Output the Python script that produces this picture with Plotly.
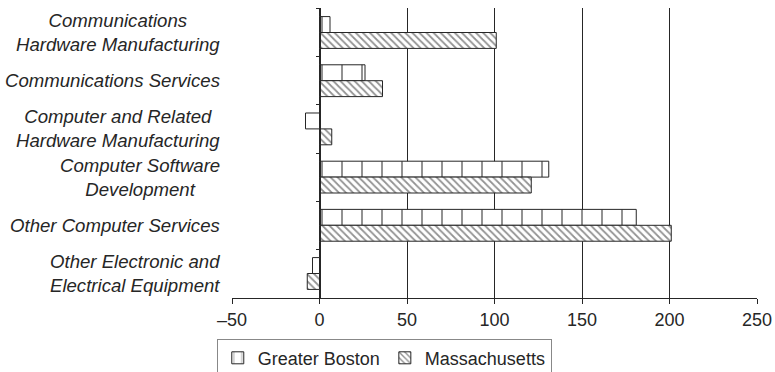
import plotly.graph_objects as go

categories = [
    "Communications<br>Hardware Manufacturing",
    "Communications Services",
    "Computer and Related<br>Hardware Manufacturing",
    "Computer Software<br>Development",
    "Other Computer Services",
    "Other Electronic and<br>Electrical Equipment",
]
series_names = ["Greater Boston", "Massachusetts"]
greater_boston = [6, 26, -8, 131, 181, -4]
massachusetts = [101, 36, 7, 121, 201, -7]
x_ticks = [-50, 0, 50, 100, 150, 200, 250]
x_tick_labels = ["\u201350", "0", "50", "100", "150", "200", "250"]

INK = "#262626"
FONT = "Liberation Sans, Arial, sans-serif"

fig = go.Figure()
fig.add_trace(go.Bar(
    y=categories, x=greater_boston, name=series_names[0], orientation="h",
    marker=dict(color="white", line=dict(color=INK, width=1),
                pattern=dict(shape="|", fgcolor=INK, bgcolor="white", size=20, solidity=0.1)),
))
fig.add_trace(go.Bar(
    y=categories, x=massachusetts, name=series_names[1], orientation="h",
    marker=dict(color="white", line=dict(color=INK, width=1),
                pattern=dict(shape="\\", fgcolor=INK, bgcolor="white", size=5, solidity=0.35)),
))

for c in categories:
    fig.add_annotation(
        x=-0.02, xref="paper", y=c, yref="y", text=c, showarrow=False,
        xanchor="right", yanchor="middle", align="center",
        font=dict(family=FONT, size=18.6, color=INK, style="italic"),
    )

fig.update_layout(
    width=775, height=372,
    margin=dict(l=232, r=18, t=8, b=74, autoexpand=False),
    paper_bgcolor="white", plot_bgcolor="white",
    barmode="group", bargap=0.34, bargroupgap=0,
    font=dict(family=FONT, size=18, color=INK),
    showlegend=True,
    legend=dict(orientation="h", x=-0.029, xanchor="left", y=-0.14, yanchor="top",
                bordercolor="#888", borderwidth=1, font=dict(size=18, color=INK),
                itemwidth=30, tracegroupgap=0, traceorder="normal"),
    xaxis=dict(range=[-50, 250], tickvals=x_ticks, ticktext=x_tick_labels,
               showgrid=True, gridcolor=INK, gridwidth=1, zeroline=False,
               showline=True, linecolor=INK, linewidth=1,
               ticks="outside", ticklen=5, tickcolor=INK, tickfont=dict(size=18)),
    yaxis=dict(autorange="reversed", anchor="free", position=1/6,
               showline=True, linecolor=INK, linewidth=1,
               ticks="outside", ticklen=4, tickcolor=INK, tickson="boundaries",
               showticklabels=False, showgrid=False),
)

fig.write_html("out.html")
